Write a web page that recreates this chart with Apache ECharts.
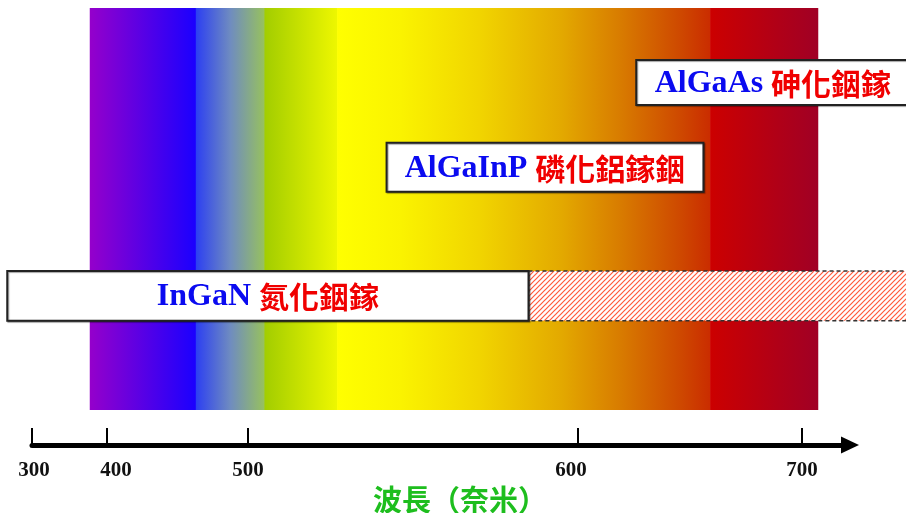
<!DOCTYPE html>
<html><head><meta charset="utf-8">
<script src="https://cdn.jsdelivr.net/npm/echarts@6/dist/echarts.min.js"></script>
<style>html,body{margin:0;padding:0;background:#fff}#c{width:906px;height:513px}</style>
</head><body><div id="c"></div>
<script>
// ---------------- data ----------------
const tickLabels = ['300', '400', '500', '600', '700'];
const tickNm = [300, 400, 500, 600, 700];
// the schematic axis is not uniform: where each tick sits along the drawn axis (% of its length)
const tickAxisPct = [0, 9.17, 26.4, 66.75, 94.13];

// edges of the colour bands of the visible spectrum (nm)
const spectrumEdgesNm = [377, 463, 505, 527, 659, 707];

const materials = ['AlGaAs', 'AlGaInP', 'InGaN'];
const materialNamesZh = ['砷化銦鎵', '磷化鋁鎵銦', '氮化銦鎵'];
const materialStartNm = [626, 542, 267];
const materialEndNm = [748, 656, 585];
const extensionEndNm = [null, null, 748];   // hatched (potential) range

const axisTitle = '波長（奈米）';

// ---------------- layout / style ----------------
const rowTop = [86.5, 67.9, 39.1];
const rowBottom = [76.4, 56.9, 27.9];
const spectrumTop = 98.2, spectrumBottom = 7.87;
const labelPad = [[0, 0, 0, 4], [0, 0, 0, 18], [0, 0, 0, 0], [0, 14, 0, 0], [0, 0, 0, 0]];
const bandColors = [
  [[0, '#9500CB'], [1, '#1A00FF']],
  [[0, '#2C3FF2'], [0.5, '#6F8CC0'], [1, '#98C25C']],
  [[0, '#A2CD00'], [1, '#EEF700']],
  [[0, '#FFFF00'], [0.17, '#FAF300'], [0.38, '#F1D500'], [0.6, '#E3A900'], [0.76, '#D87B00'], [0.92, '#CE4800'], [1, '#CA2C00']],
  [[0, '#CC0000'], [1, '#A00025']]
];

function toAxis(nm) {
  let k = 0;
  if (nm >= tickNm[tickNm.length - 1]) k = tickNm.length - 2;
  else { while (k < tickNm.length - 2 && nm > tickNm[k + 1]) k++; }
  const t = (nm - tickNm[k]) / (tickNm[k + 1] - tickNm[k]);
  return tickAxisPct[k] + t * (tickAxisPct[k + 1] - tickAxisPct[k]);
}

function hatchPattern() {
  const s = 5;
  const c = document.createElement('canvas'); c.width = s; c.height = s;
  const g = c.getContext('2d');
  g.fillStyle = '#ffffff'; g.fillRect(0, 0, s, s);
  g.strokeStyle = '#FF5A3C'; g.lineWidth = 1.2;
  g.beginPath();
  g.moveTo(0, s); g.lineTo(s, 0);
  g.moveTo(-1, 1); g.lineTo(1, -1);
  g.moveTo(s - 1, s + 1); g.lineTo(s + 1, s - 1);
  g.stroke();
  return { image: c, repeat: 'repeat' };
}
const hatch = hatchPattern();

const bandData = [];
for (let i = 0; i < spectrumEdgesNm.length - 1; i++) {
  bandData.push([toAxis(spectrumEdgesNm[i]), toAxis(spectrumEdgesNm[i + 1]), i]);
}
const materialData = materials.map((m, i) => [
  toAxis(materialStartNm[i]), toAxis(materialEndNm[i]),
  extensionEndNm[i] == null ? NaN : toAxis(extensionEndNm[i]), i
]);

const labelRich = {};
labelPad.forEach((p, k) => { labelRich['t' + k] = { padding: p }; });

const chart = echarts.init(document.getElementById('c'));
chart.setOption({
  backgroundColor: '#ffffff',
  animation: false,
  grid: { left: 32, right: 56, top: 0, bottom: 68, outerBoundsMode: 'none', containLabel: false },
  xAxis: {
    type: 'value', min: 0, max: 100,
    splitLine: { show: false },
    axisLine: { show: true, lineStyle: { color: '#000', width: 5 }, symbol: ['none', 'triangle'], symbolSize: [17, 18] },
    axisTick: { show: true, customValues: tickAxisPct, inside: true, length: 17, lineStyle: { color: '#000', width: 2 } },
    axisLabel: {
      customValues: tickAxisPct,
      formatter: v => { const k = tickAxisPct.findIndex(p => Math.abs(p - v) < 1e-6); return k >= 0 ? '{t' + k + '|' + tickLabels[k] + '}' : ''; },
      rich: labelRich,
      margin: 15, color: '#111', fontFamily: 'Liberation Serif', fontWeight: 'bold', fontSize: 21
    },
    name: axisTitle, nameLocation: 'middle', nameGap: 36,
    nameTextStyle: { color: '#1EBE1E', fontFamily: 'Noto Sans CJK TC', fontWeight: 'bold', fontSize: 29, padding: [0, 0, 0, 38] }
  },
  yAxis: { type: 'value', min: 0, max: 100, show: false },
  series: [
    {
      type: 'custom', z: 1, clip: false,
      data: bandData,
      renderItem(params, api) {
        const a = api.coord([api.value(0), spectrumTop]);
        const b = api.coord([api.value(1), spectrumBottom]);
        const stops = bandColors[api.value(2)].map(s => ({ offset: s[0], color: s[1] }));
        return {
          type: 'rect',
          shape: { x: a[0], y: a[1], width: b[0] - a[0] + 0.6, height: b[1] - a[1] },
          style: { fill: new echarts.graphic.LinearGradient(0, 0, 1, 0, stops) }
        };
      }
    },
    {
      type: 'custom', z: 5, clip: false,
      data: materialData,
      renderItem(params, api) {
        const i = api.value(3);
        const a = api.coord([api.value(0), rowTop[i]]);
        const b = api.coord([api.value(1), rowBottom[i]]);
        const children = [];
        const ext = api.value(2);
        if (!isNaN(ext)) {
          const e = api.coord([ext, rowBottom[i]]);
          children.push({
            type: 'rect',
            shape: { x: b[0], y: a[1], width: e[0] - b[0], height: b[1] - a[1] },
            style: { fill: hatch, stroke: '#333', lineWidth: 1.5, lineDash: [4, 3] }
          });
        }
        children.push({
          type: 'rect',
          shape: { x: a[0], y: a[1], width: b[0] - a[0], height: b[1] - a[1] },
          style: { fill: '#fff', stroke: '#222', lineWidth: 2, shadowColor: 'rgba(0,0,0,0.35)', shadowOffsetX: 1, shadowOffsetY: 1, shadowBlur: 1 }
        });
        children.push({
          type: 'text',
          style: {
            x: (a[0] + b[0]) / 2, y: (a[1] + b[1]) / 2 + 1,
            text: '{en|' + materials[i] + '} {zh|' + materialNamesZh[i] + '}',
            align: 'center', verticalAlign: 'middle',
            font: 'bold 32px "Liberation Serif"',
            rich: {
              en: { fontFamily: 'Liberation Serif', fontWeight: 'bold', fontSize: 32, fill: '#0A0AF0', verticalAlign: 'middle' },
              zh: { fontFamily: 'Noto Sans CJK TC', fontWeight: 'bold', fontSize: 30, fill: '#F00000', verticalAlign: 'middle' }
            }
          }
        });
        return { type: 'group', children };
      }
    }
  ]
});
</script></body></html>
